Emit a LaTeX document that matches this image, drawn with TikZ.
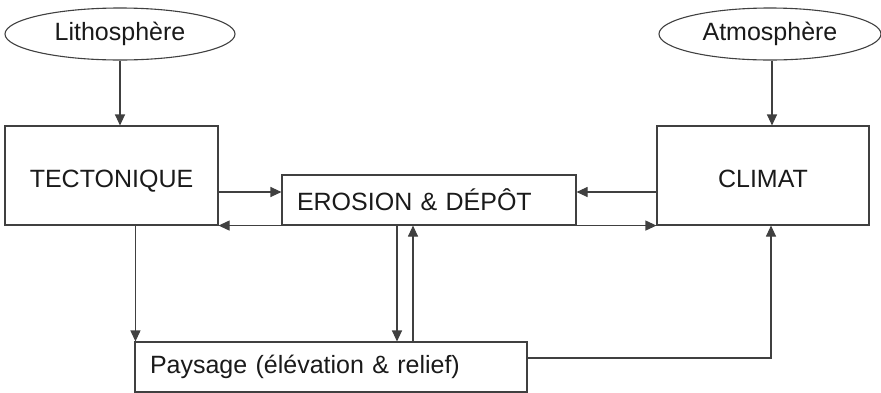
\documentclass[tikz,border=0pt]{standalone}
\usepackage{fontspec}
\setmainfont{Liberation Sans}
\usetikzlibrary{shapes.geometric,arrows.meta}
\definecolor{ln}{HTML}{404040}
\definecolor{tx}{HTML}{1A1A1A}
\begin{document}
\begin{tikzpicture}[x=1pt,y=-1pt,
  every node/.style={text=tx,font=\fontsize{25}{29}\selectfont},
  ell/.style={draw=ln,line width=1.1pt,ellipse,inner sep=0pt,minimum height=52pt},
  bx/.style={draw=ln,line width=1.1pt,rectangle,inner sep=0pt,text height=23pt,text depth=0pt},
  lbx/.style={draw=ln,line width=1.1pt,rectangle,inner ysep=0pt,inner xsep=15pt,align=left,minimum height=50pt},
  arr/.style={draw=ln,line width=1.1pt,-{Triangle[length=11pt,width=10pt]}},
  darr/.style={draw=ln,line width=1.1pt,{Triangle[length=11pt,width=10pt]}-{Triangle[length=11pt,width=10pt]}}]
\useasboundingbox (0,0) rectangle (881,392);
\node[ell,minimum width=230pt] (lith) at (120,34) {Lithosphère};
\node[ell,minimum width=222pt] (atmo) at (770,34) {Atmosphère};
\node[bx,minimum width=213pt,minimum height=99pt] (tect) at (111.5,175.5) {TECTONIQUE};
\node[bx,minimum width=212pt,minimum height=99pt] (clim) at (763,175.5) {CLIMAT};
\node[lbx,text width=264pt] (eros) at (429,200) {EROSION \& DÉPÔT};
\node[lbx,text width=362pt] (pays) at (331,367) {Paysage (élévation \& relief)};
% inputs
\draw[arr] (lith.south) -- (lith.south |- tect.north);
\coordinate (a1) at ([xshift=2pt]atmo.south);
\draw[arr] (a1) -- (a1 |- clim.north);
% to erosion
\coordinate (e1) at ([yshift=8pt]eros.west);
\coordinate (e2) at ([yshift=8pt]eros.east);
\draw[arr] (e1 -| tect.east) -- (e1);
\draw[arr] (e2 -| clim.west) -- (e2);
% bottom double arrow
\draw[darr] (tect.south east) -- (clim.south west);
% to paysage
\coordinate (p0) at ([xshift=1pt]pays.north west);
\draw[arr] (p0 |- tect.south) -- (p0);
\coordinate (e3) at ([xshift=-32pt]eros.south);
\coordinate (e4) at ([xshift=-16pt]eros.south);
\draw[arr] (e3) -- (e3 |- pays.north);
\draw[arr] (e4 |- pays.north) -- (e4);
% paysage to climat
\coordinate (p1) at ([yshift=9pt]pays.east);
\coordinate (c1) at ([xshift=8pt]clim.south);
\draw[arr] (p1) -| (c1);
\end{tikzpicture}
\end{document}
